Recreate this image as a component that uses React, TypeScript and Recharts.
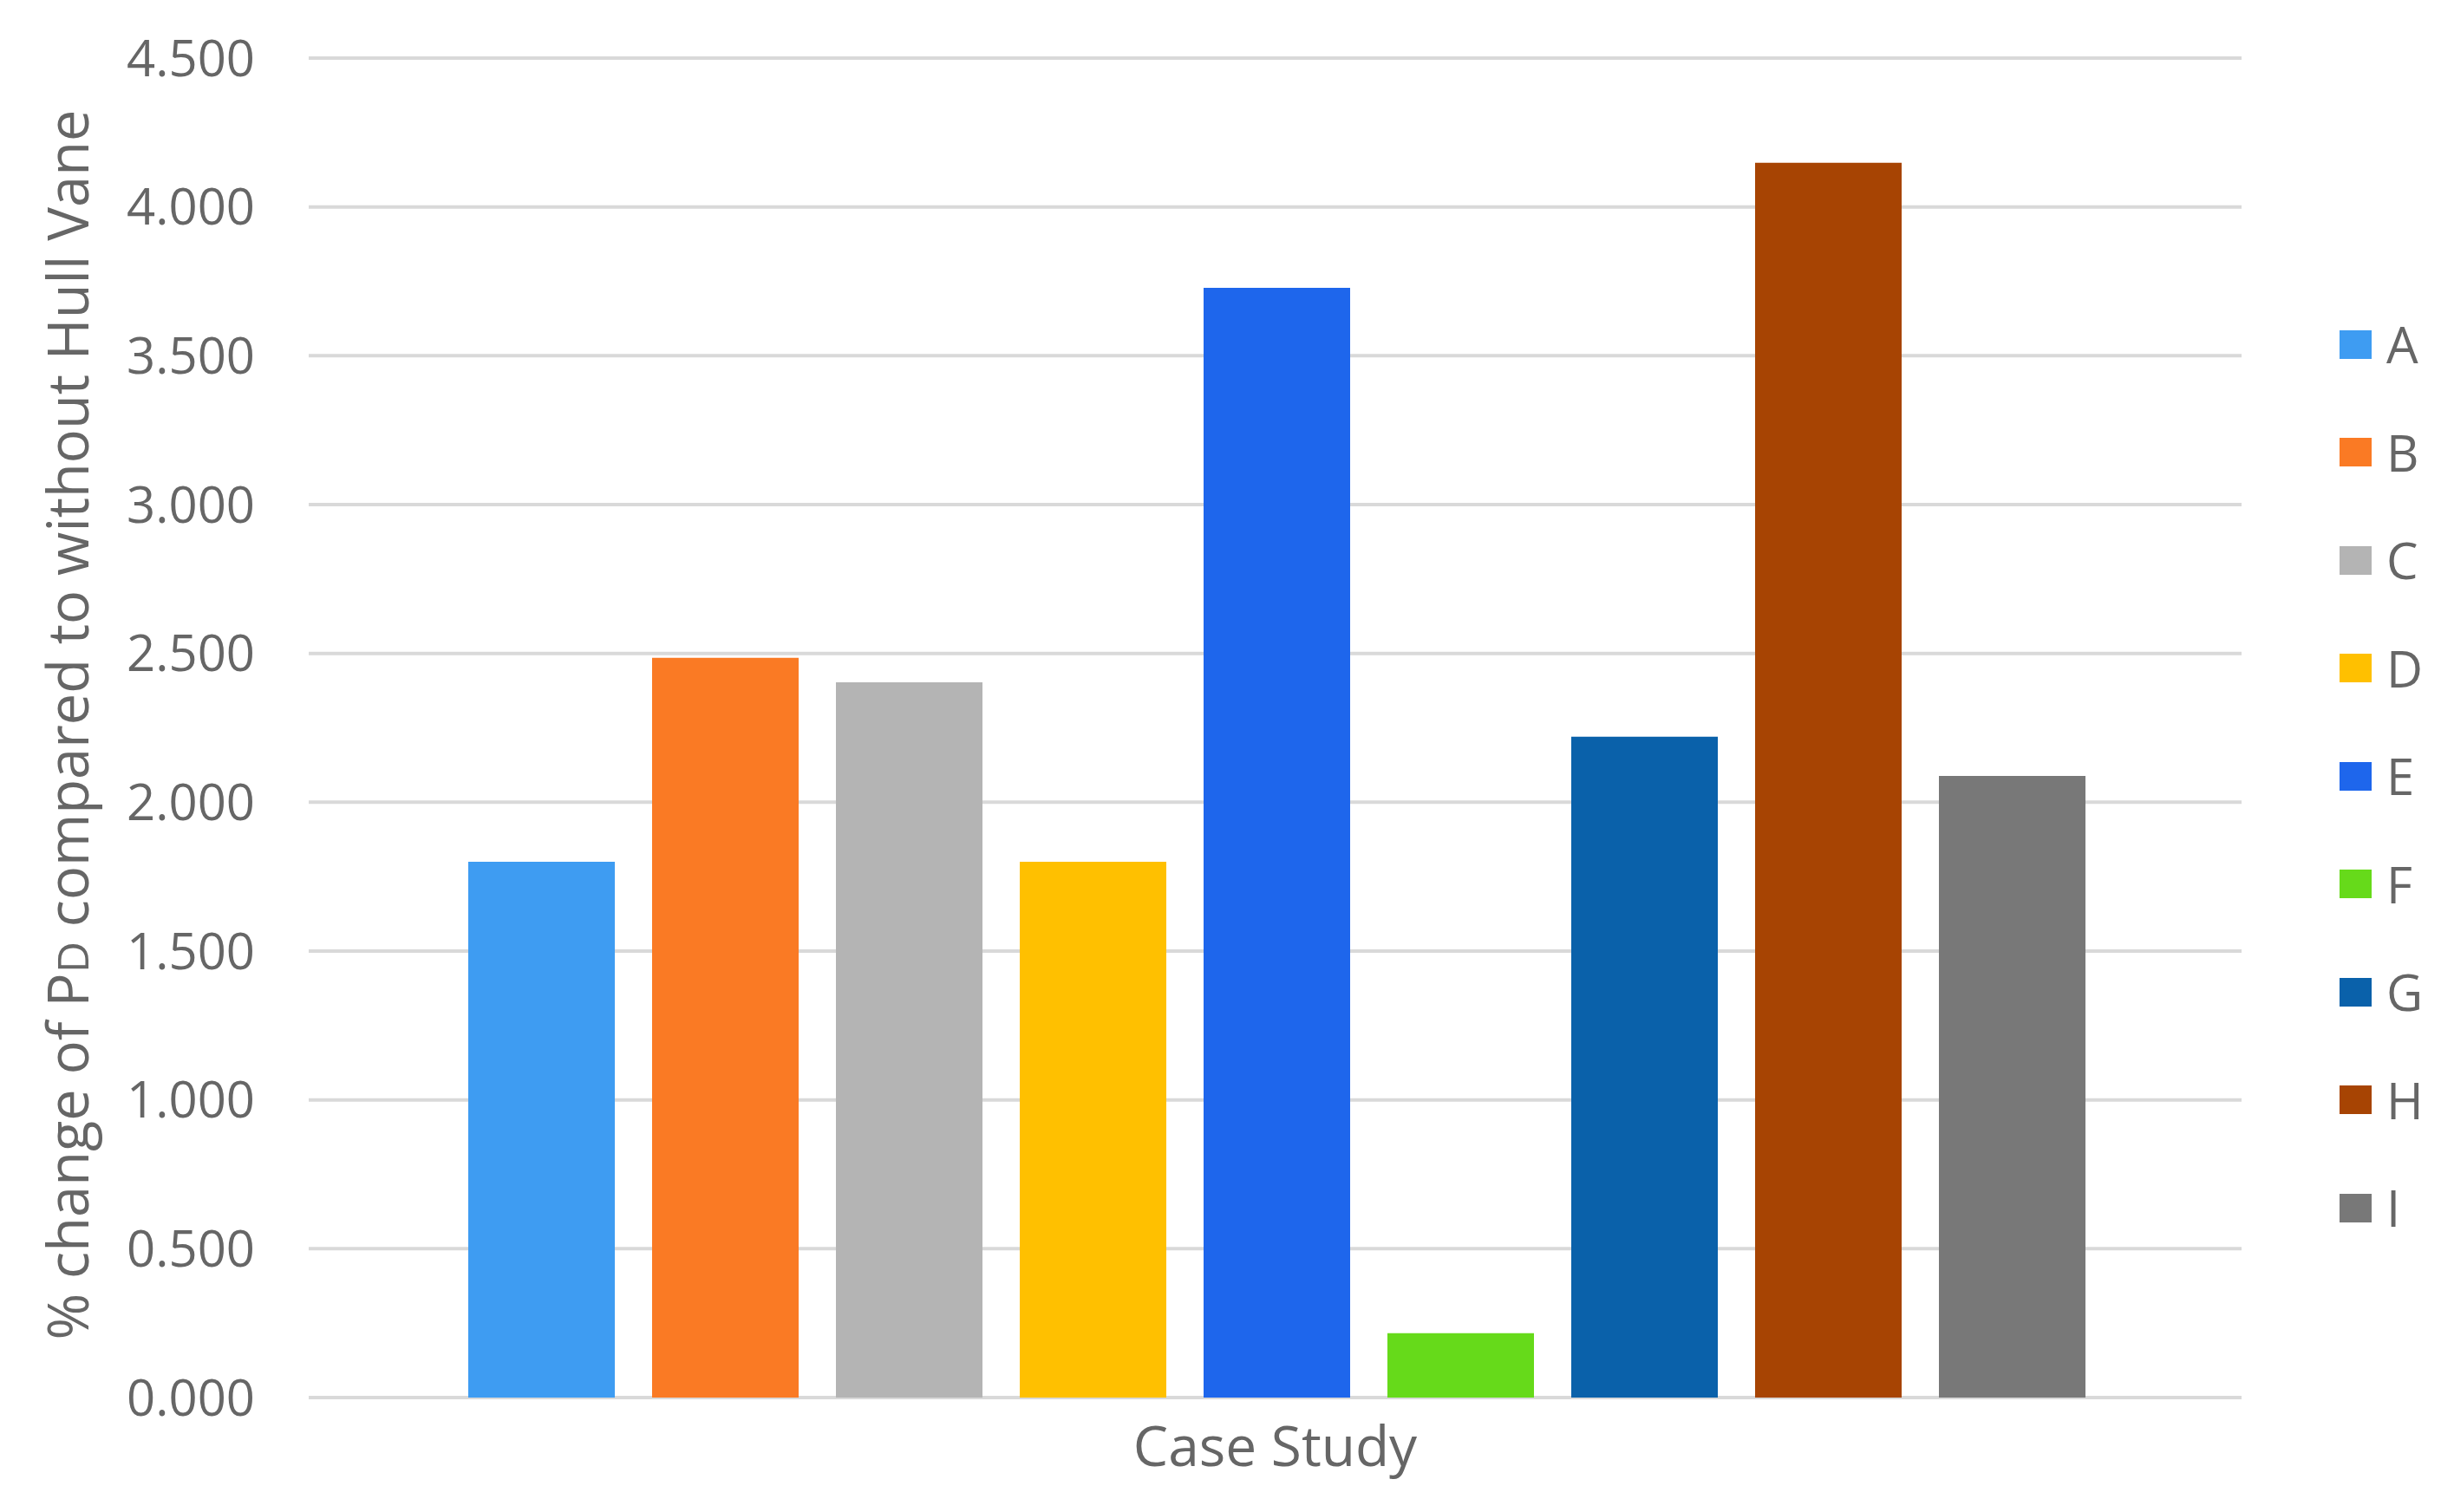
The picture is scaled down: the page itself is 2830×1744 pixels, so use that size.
import { Bar, BarChart, CartesianGrid, Legend, XAxis, YAxis } from "recharts";

const categories = ["Case Study"];
const seriesNames = ["A", "B", "C", "D", "E", "F", "G", "H", "I"];
const seriesValues = [1.8, 2.485, 2.403, 1.8, 3.728, 0.216, 2.22, 4.148, 2.088];
const seriesColors = [
  "#3E9CF2",
  "#FA7A24",
  "#B4B4B4",
  "#FFC000",
  "#1E66EC",
  "#66DA1A",
  "#0A61AA",
  "#A74403",
  "#787878",
];
const yTicks = [0, 0.5, 1, 1.5, 2, 2.5, 3, 3.5, 4, 4.5];

const data = categories.map((name) => {
  const row: Record<string, string | number> = { name };
  seriesNames.forEach((s, i) => (row[s] = seriesValues[i]));
  return row;
});

const FONT = "'Open Sans', sans-serif";
const TEXT = "#666666";

function YTitle() {
  return (
    <text
      x={102}
      y={836}
      transform="rotate(-90 102 836)"
      textAnchor="middle"
      fill={TEXT}
      fontFamily={FONT}
      fontSize={65}
    >
      % change of P<tspan fontSize={50}>D</tspan> compared to without Hull Vane
    </text>
  );
}

function LegendList() {
  return (
    <ul style={{ listStyle: "none", margin: 0, padding: 0, fontFamily: FONT }}>
      {seriesNames.map((s, i) => (
        <li
          key={s}
          style={{ height: 124.5, display: "flex", alignItems: "center", gap: 17 }}
        >
          <span
            style={{ display: "inline-block", width: 37, height: 33, background: seriesColors[i] }}
          />
          <span style={{ fontSize: 58, color: TEXT, lineHeight: 1 }}>{s}</span>
        </li>
      ))}
    </ul>
  );
}

export default function App() {
  return (
    <div style={{ position: "absolute", left: 0, top: 0, background: "#fff" }}>
      <BarChart
        width={2830}
        height={1744}
        data={data}
        margin={{ top: 67, right: 245, left: 0, bottom: 0 }}
        barCategoryGap={184}
        barGap={43}
      >
        <CartesianGrid vertical={false} stroke="#D9D9D9" strokeWidth={4} />
        <XAxis
          dataKey="name"
          height={132}
          axisLine={false}
          tickLine={false}
          tickSize={0}
          tickMargin={34}
          tick={{ fill: TEXT, fontFamily: FONT, fontSize: 64 }}
        />
        <YAxis
          width={356}
          domain={[0, 4.5]}
          ticks={yTicks}
          tickFormatter={(v: number) => v.toFixed(3)}
          axisLine={false}
          tickLine={false}
          tickSize={0}
          tickMargin={62}
          tick={{ fill: TEXT, fontFamily: FONT, fontSize: 58 }}
          label={<YTitle />}
        />
        <Legend
          layout="vertical"
          align="center"
          verticalAlign="middle"
          content={<LegendList />}
          wrapperStyle={{ left: 2698, top: 335, right: "auto", bottom: "auto", width: 130 }}
        />
        {seriesNames.map((s, i) => (
          <Bar key={s} dataKey={s} fill={seriesColors[i]} isAnimationActive={false} />
        ))}
      </BarChart>
    </div>
  );
}
